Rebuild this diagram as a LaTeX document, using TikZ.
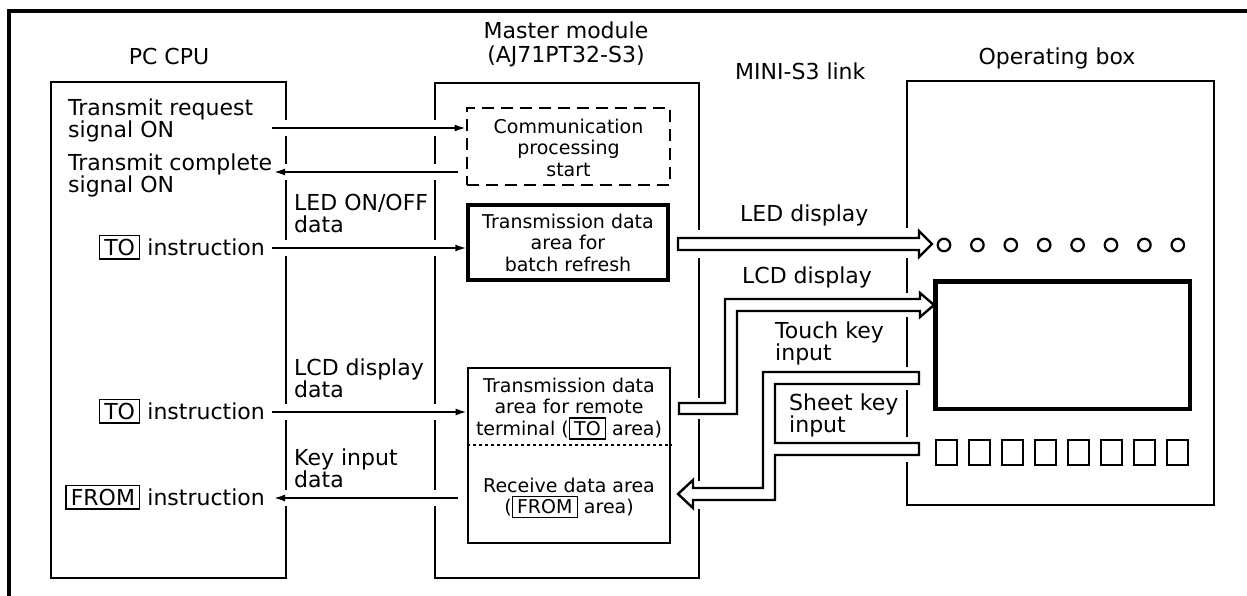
\documentclass[tikz,border=0pt]{standalone}
\usepackage{fontspec}
\setmainfont{DejaVu Sans}
\usetikzlibrary{arrows.meta,fit}

% boxed instruction / area names
\newcommand\kb[1]{{\setlength\fboxsep{2.5pt}\setlength\fboxrule{1.4pt}%
  \fbox{\kern1.5pt\rule[-0.03em]{0pt}{0.72em}#1\kern1.5pt}}}

\begin{document}
\begin{tikzpicture}[x=1pt,y=-1pt,line join=miter,
  frame/.style={draw,line width=2.8pt,inner sep=0pt},
  lbl/.style={font=\fontsize{22}{22.5}\selectfont,inner sep=0pt,align=left},
  inbox/.style={font=\fontsize{19}{21.5}\selectfont,inner sep=0pt,align=center},
  sig/.style={line width=1.8pt,-{Latex[length=11pt,width=7pt]}},
  pipe/.style={draw,fill=white,line width=2.4pt,line join=miter},
  gap/.style={fill=white}]

\useasboundingbox (0,0) rectangle (1247,596);

% outer frame (top and left edges)
\draw[line width=3.2pt] (9,596) -- (9,11) -- (1247,11);

% main blocks
\node[frame,fit={(51,82) (286,578)}] (cpu) {};
\node[frame,fit={(435,83) (699,578)}] (master) {};
\node[frame,dash pattern=on 12pt off 7pt,fit={(467,108) (670,185)}] (comm) {};
\node[frame,line width=3.2pt,fit={(468,205) (668,280)}] (batch) {};
\node[frame,fit={(468,368) (670,543)}] (remote) {};
\draw[line width=1.4pt,dash pattern=on 3pt off 3pt] (remote.west |- 0,445) -- (remote.east |- 0,445);
\node[frame,fit={(907,81) (1214,505)}] (opbox) {};
\node[frame,line width=3pt,fit={(936,282) (1189,408)}] (screen) {};

% LEDs and sheet keys of the operating box
\foreach \i in {1,...,8}
  \node[draw,circle,line width=2.2pt,minimum size=12.5pt,inner sep=0pt] (led\i) at ({944+33.4*(\i-1)},245) {};
\foreach \i in {1,...,8}
  \node[draw,line width=2.6pt,minimum width=21pt,minimum height=25pt,inner sep=0pt] (key\i) at ({946.5+33*(\i-1)},452.5) {};

% breaks in the block borders where signals pass
\foreach \y in {128,172,248,412,498} {
  \fill[gap] (281,\y-8) rectangle (291,\y+8);
  \fill[gap] (430,\y-8) rectangle (440,\y+8);
}
\fill[gap] (694,230) rectangle (704,258);
\fill[gap] (694,398) rectangle (704,419);
\fill[gap] (694,481) rectangle (704,509);
\fill[gap] (902,228) rectangle (912,258);
\fill[gap] (902,293) rectangle (912,317);
\fill[gap] (902,367) rectangle (912,390);
\fill[gap] (902,437) rectangle (912,462);

% signal lines
\coordinate (trq) at (272,128);
\coordinate (tcS) at (458,172);
\coordinate (tcE) at (274,172);
\coordinate (ledS) at (272,248);
\coordinate (lcdS) at (272,412);
\coordinate (keyS) at (458,498);
\coordinate (keyE) at (274,498);
\draw[sig] (trq) -- (comm.west |- trq);
\draw[sig] (tcS) -- (tcE);
\draw[sig] (ledS) -- (batch.west |- ledS);
\draw[sig] (lcdS) -- (remote.west |- lcdS);
\draw[sig] (keyS) -- (keyE);

% MINI-S3 link data paths
\draw[pipe] (678,238) -- (919,238) -- (919,231) -- (932,244) -- (919,257) -- (919,250) -- (678,250) -- cycle;
\draw[pipe] (679,403) -- (725,403) -- (725,299) -- (920,299) -- (920,293) -- (934,305)
  -- (920,317) -- (920,311) -- (737,311) -- (737,414) -- (679,414) -- cycle;
\draw[pipe] (678,494) -- (693,480) -- (693,488) -- (763,488) -- (763,372) -- (919,372)
  -- (919,384) -- (775,384) -- (775,443) -- (919,443) -- (919,455) -- (775,455)
  -- (775,500) -- (693,500) -- (693,508) -- cycle;
\draw[frame,line width=3pt] (screen.north west) rectangle (screen.south east);

% headings
\node[lbl,anchor=base] (tcpu) at (169,65) {PC CPU};
\node[lbl,align=center,anchor=north] (tmaster) at (566,21.5) {Master module\\[2pt](AJ71PT32-S3)};
\node[lbl,anchor=base west] (tlink) at (735,80) {MINI-S3 link};
\node[lbl,anchor=base] (tbox) at (1057,65) {Operating box};

% PC CPU side
\node[lbl,anchor=north west] (treq) at (68,98.5) {Transmit request\\signal ON};
\node[lbl,anchor=north west] (tcomp) at (68,153.5) {Transmit complete\\signal ON};
\node[lbl,anchor=base east] (to1) at (265,255) {\kb{TO} instruction};
\node[lbl,anchor=base east] (to2) at (265,419) {\kb{TO} instruction};
\node[lbl,anchor=base east] (from1) at (265,505) {\kb{FROM} instruction};
\node[lbl,anchor=north west] (tledd) at (294,193.5) {LED ON/OFF\\data};
\node[lbl,anchor=north west] (tlcdd) at (294,358.5) {LCD display\\data};
\node[lbl,anchor=north west] (tkeyd) at (294,448.5) {Key input\\data};

% master module areas
\node[inbox,anchor=north] (tcomm) at (568.5,118.6) {Communication\\processing\\start};
\node[inbox,anchor=north] (tbatch) at (568,213.6) {Transmission data\\area for\\batch refresh};
\node[inbox,anchor=north] (tremote) at (569,377.6) {Transmission data\\area for remote\\terminal (\kb{TO} area)};
\node[inbox,anchor=north] (trecv) at (569,477.6) {Receive data area\\(\kb{FROM} area)};

% link labels
\node[lbl,anchor=base west] (tled) at (740,222) {LED display};
\node[lbl,anchor=base west] (tlcd) at (742,283) {LCD display};
\node[lbl,anchor=north west] (ttouch) at (775,321.5) {Touch key\\input};
\node[lbl,anchor=north west] (tsheet) at (789,393.5) {Sheet key\\input};
\end{tikzpicture}
\end{document}
